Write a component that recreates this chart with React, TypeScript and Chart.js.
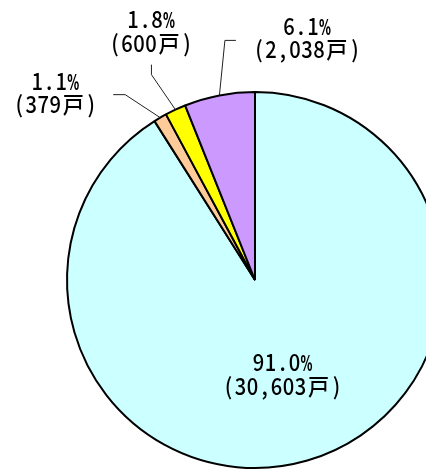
import React, { useEffect, useRef } from "react";
import { Chart, registerables } from "chart.js";

Chart.register(...registerables);

// ---- data ----
const categories = ["区分A", "区分B", "区分C", "区分D"];
const households = [30603, 379, 600, 2038];
const percentLabels = ["91.0%", "1.1%", "1.8%", "6.1%"];
const countLabels = ["(30,603戸)", "(379戸)", "(600戸)", "(2,038戸)"];
const sliceColors = ["#CCFFFF", "#FFCC99", "#FFFF00", "#CC99FF"];

// ---- label placement (relative to slice outer-edge midpoint) ----
const insideLabel = [true, false, false, false];
const elbowOffsets: ([number, number] | null)[] = [null, [-35, -23], [-24, -35], [5.5, -55]];
const endOffsets: ([number, number] | null)[] = [null, [-47, -23], [-24, -45], [16.5, -55]];
const labelOffsets: ([number, number] | null)[] = [null, [-105, -23.7], [-24.4, -77.2], [87.5, -56.2]];

const FONT_FAMILY = '"Noto Sans CJK JP", "Noto Sans", sans-serif';
const PCT_FONT_FAMILY = '"DejaVu Sans", "Liberation Sans", sans-serif';
const FONT_SIZE = 23;
const UNIT = 12;
const LINE_GAP = 23.4;

function isFull(c: string) {
  return c.charCodeAt(0) > 0xff;
}

function drawMono(ctx: CanvasRenderingContext2D, text: string, cx: number, cy: number) {
  const chars = Array.from(text);
  const cells = chars.map((c) => (isFull(c) ? 2 : 1));
  const total = cells.reduce((a, b) => a + b, 0) * UNIT;
  let x = cx - total / 2;
  const baseline = cy + FONT_SIZE * 0.33;
  const mainFont = `500 ${FONT_SIZE}px ${FONT_FAMILY}`;
  const pctFont = `bold ${FONT_SIZE - 1}px ${PCT_FONT_FAMILY}`;
  chars.forEach((c, i) => {
    const cellW = cells[i] * UNIT;
    ctx.font = c === "%" ? pctFont : mainFont;
    const w = ctx.measureText(c).width;
    let sx = 1;
    if (c === "%") sx = 12 / w;
    else if (cells[i] === 1) sx = Math.min(0.92, 11.5 / w);
    else sx = 0.92;
    ctx.save();
    ctx.translate(x + cellW / 2, baseline);
    ctx.scale(sx, 1);
    ctx.fillText(c, 0, 0);
    ctx.restore();
    x += cellW;
  });
  ctx.font = mainFont;
}

const labelPlugin = {
  id: "pieLabels",
  afterDatasetsDraw(chart: any) {
    const ctx: CanvasRenderingContext2D = chart.ctx;
    const meta = chart.getDatasetMeta(0);
    ctx.save();
    ctx.fillStyle = "#000";
    ctx.textAlign = "center";
    ctx.textBaseline = "alphabetic";
    meta.data.forEach((arc: any, i: number) => {
      const p = arc.getProps(["x", "y", "startAngle", "endAngle", "outerRadius"], true);
      const mid = (p.startAngle + p.endAngle) / 2;
      if (insideLabel[i]) {
        const r = p.outerRadius * 0.528;
        const lx = p.x + Math.cos(mid) * r;
        const ly = p.y + Math.sin(mid) * r;
        drawMono(ctx, percentLabels[i], lx, ly - LINE_GAP / 2);
        drawMono(ctx, countLabels[i], lx, ly + LINE_GAP / 2);
        return;
      }
      const ex = p.x + Math.cos(mid) * p.outerRadius;
      const ey = p.y + Math.sin(mid) * p.outerRadius;
      const el = elbowOffsets[i]!;
      const en = endOffsets[i]!;
      const lo = labelOffsets[i]!;
      ctx.save();
      ctx.strokeStyle = "#222";
      ctx.lineWidth = 1;
      ctx.beginPath();
      ctx.moveTo(ex, ey);
      ctx.lineTo(ex + el[0], ey + el[1]);
      ctx.lineTo(ex + en[0], ey + en[1]);
      ctx.stroke();
      ctx.restore();
      const lx = ex + lo[0];
      const ly = ey + lo[1];
      drawMono(ctx, percentLabels[i], lx, ly - LINE_GAP / 2);
      drawMono(ctx, countLabels[i], lx, ly + LINE_GAP / 2);
    });
    ctx.restore();
  },
};

export default function App() {
  const canvasRef = useRef<HTMLCanvasElement | null>(null);

  useEffect(() => {
    if (!canvasRef.current) return;
    const chart = new Chart(canvasRef.current, {
      type: "pie",
      data: {
        labels: categories,
        datasets: [
          {
            data: households,
            backgroundColor: sliceColors,
            borderColor: "#000",
            borderWidth: 2,
          },
        ],
      },
      options: {
        animation: false,
        responsive: true,
        maintainAspectRatio: false,
        layout: { padding: { left: 66, right: 66, top: 91, bottom: 91 } },
        plugins: {
          legend: { display: false },
          tooltip: { enabled: false },
          title: { display: false },
        },
      },
      plugins: [labelPlugin],
    });
    return () => chart.destroy();
  }, []);

  return (
    <div
      style={{
        position: "fixed",
        left: 0,
        top: 0,
        width: 426,
        height: 469,
        overflow: "hidden",
        background: "#fff",
      }}
    >
      <div style={{ position: "relative", width: 510, height: 560 }}>
        <canvas ref={canvasRef} />
      </div>
    </div>
  );
}
